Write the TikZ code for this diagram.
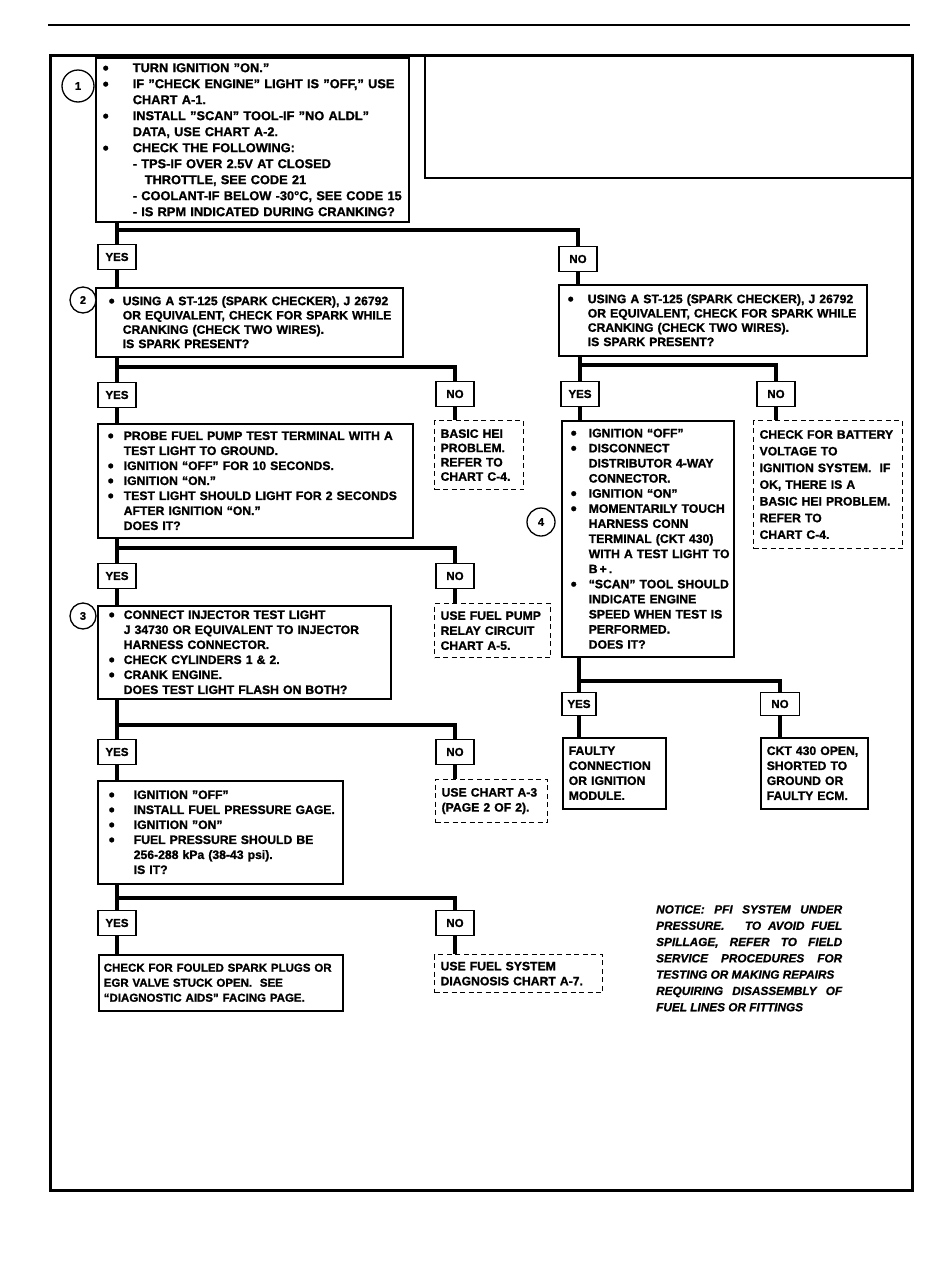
\documentclass[tikz,border=0pt]{standalone}
\usepackage{fontspec}
\setmainfont{Liberation Sans}[BoldFeatures={FakeBold=1.2}, BoldItalicFeatures={FakeBold=1}]
\usetikzlibrary{positioning}
\setlength\parindent{0pt}
\newlength\bulx
\newlength\bulw
\newcommand\bset[2]{\setlength\bulx{#1}\setlength\bulw{#2}}
\newcommand\bl{\hspace*{\bulx}\makebox[\bulw][l]{\raisebox{-1.6pt}{\fontsize{17}{0}\selectfont\textbullet}}}
\newcommand\ct{\hspace*{\bulx}\hspace*{\bulw}}

\begin{document}
\begin{tikzpicture}[x=1pt, y=-1pt,
    font=\bfseries\fontsize{12.2}{15}\selectfont,
    qbox/.style={draw=black, line width=1.5pt, fill=white, anchor=north west,
                 align=left, inner xsep=3pt, inner ysep=2pt},
    endbox/.style={qbox, inner xsep=6pt},
    dbox/.style={endbox, line width=1.2pt, dash pattern=on 5pt off 3.5pt},
    ans/.style={draw=black, line width=1.5pt, fill=white, inner sep=0pt,
                minimum width=38pt, minimum height=25pt,
                font=\bfseries\fontsize{11.5}{13}\selectfont},
    num/.style={circle, draw=black, line width=1.3pt, fill=white, inner sep=0pt,
                minimum size=26pt, font=\bfseries\fontsize{11}{13}\selectfont},
    wire/.style={draw=black, line width=3.8pt}
]
\useasboundingbox (0,0) rectangle (950,1264);

% page rule and frame
\draw[line width=2.5pt] (48,25) -- (910,25);
\draw[line width=3pt] (50,55) rectangle (912,1190);
\draw[line width=1.5pt] (425,55) |- (912,178);

% step 1
\node[qbox, text width=307pt, minimum height=164pt,
      font=\bfseries\fontsize{12.8}{16}\selectfont] (q1) at (95,57) {\bset{4pt}{30pt}%
\bl TURN IGNITION ''ON.''\\
\bl IF ''CHECK ENGINE'' LIGHT IS ''OFF,'' USE\\
\ct CHART A-1.\\
\bl INSTALL ''SCAN'' TOOL-IF ''NO ALDL''\\
\ct DATA, USE CHART A-2.\\
\bl CHECK THE FOLLOWING:\\
\ct - TPS-IF OVER 2.5V AT CLOSED\\
\ct\hspace*{12pt}THROTTLE, SEE CODE 21\\
\ct - COOLANT-IF BELOW -30°C, SEE CODE 15\\
\ct - IS RPM INDICATED DURING CRANKING?};
\node[num, minimum size=32pt] (c1) at (78,86) {1};
\node[ans] (y1) at (117,257) {YES};
\node[ans] (n1) at (578,259) {NO};

% step 2
\node[qbox, text width=301pt, minimum height=69pt,
      font=\bfseries\fontsize{12.2}{14.3}\selectfont] (q2L) at (95,287) {\bset{10pt}{14pt}%
\bl USING A ST-125 (SPARK CHECKER), J 26792\\
\ct OR EQUIVALENT, CHECK FOR SPARK WHILE\\
\ct CRANKING (CHECK TWO WIRES).\\
\ct IS SPARK PRESENT?};
\node[num] (c2) at (83,300) {2};
\node[qbox, text width=302pt, minimum height=71pt,
      font=\bfseries\fontsize{12.2}{14.3}\selectfont] (q2R) at (558,284) {\bset{6pt}{20pt}%
\bl USING A ST-125 (SPARK CHECKER), J 26792\\
\ct OR EQUIVALENT, CHECK FOR SPARK WHILE\\
\ct CRANKING (CHECK TWO WIRES).\\
\ct IS SPARK PRESENT?};
\node[ans] (y2L) at (117,395) {YES};
\node[ans] (n2L) at (455,394) {NO};
\node[ans] (y2R) at (580,394) {YES};
\node[ans] (n2R) at (776,394) {NO};

% fuel pump / ignition module
\node[qbox, text width=309pt, minimum height=114pt] (qP) at (97,423) {\bset{7pt}{16pt}%
\bl PROBE FUEL PUMP TEST TERMINAL WITH A\\
\ct TEST LIGHT TO GROUND.\\
\bl IGNITION ``OFF'' FOR 10 SECONDS.\\
\bl IGNITION ``ON.''\\
\bl TEST LIGHT SHOULD LIGHT FOR 2 SECONDS\\
\ct AFTER IGNITION ``ON.''\\
\ct DOES IT?};
\node[dbox, text width=77pt, minimum height=69pt,
      font=\bfseries\fontsize{12.2}{14.3}\selectfont] (hei) at (434,420)
  {BASIC HEI\\ PROBLEM.\\ REFER TO\\ CHART C-4.};
\node[qbox, text width=166pt, minimum height=236pt,
      font=\bfseries\fontsize{12.2}{15.1}\selectfont] (q4) at (561,420) {\bset{6pt}{18pt}%
\bl IGNITION ``OFF''\\
\bl DISCONNECT\\
\ct DISTRIBUTOR 4-WAY\\
\ct CONNECTOR.\\
\bl IGNITION ``ON''\\
\bl MOMENTARILY TOUCH\\
\ct HARNESS CONN\\
\ct TERMINAL (CKT 430)\\
\ct WITH A TEST LIGHT TO\\
\ct B\,+\,.\\
\bl ``SCAN'' TOOL SHOULD\\
\ct INDICATE ENGINE\\
\ct SPEED WHEN TEST IS\\
\ct PERFORMED.\\
\ct DOES IT?};
\node[num, minimum size=28pt] (c4) at (541,522) {4};
\node[dbox, text width=137pt, minimum height=128pt,
      font=\bfseries\fontsize{12.2}{16.7}\selectfont] (batt) at (753,420)
  {CHECK FOR BATTERY\\ VOLTAGE TO\\ IGNITION SYSTEM.\ \ IF\\ OK, THERE IS A\\
   BASIC HEI PROBLEM.\\ REFER TO\\ CHART C-4.};
\node[ans] (yP) at (117,576) {YES};
\node[ans] (nP) at (455,576) {NO};
\node[ans, minimum width=34pt, minimum height=23pt] (y4) at (579,704) {YES};
\node[ans, minimum width=39pt, minimum height=23pt] (n4) at (780,704) {NO};

% step 3
\node[qbox, text width=287pt, minimum height=93pt] (q3) at (97,605) {\bset{8pt}{15pt}%
\bl CONNECT INJECTOR TEST LIGHT\\
\ct J 34730 OR EQUIVALENT TO INJECTOR\\
\ct HARNESS CONNECTOR.\\
\bl CHECK CYLINDERS 1 \& 2.\\
\bl CRANK ENGINE.\\
\ct DOES TEST LIGHT FLASH ON BOTH?};
\node[num] (c3) at (83,616) {3};
\node[dbox, text width=104pt, minimum height=54pt] (relay) at (434,603)
  {USE FUEL PUMP\\ RELAY CIRCUIT\\ CHART A-5.};
\node[endbox, text width=91pt, minimum height=71pt] (faulty) at (562,737)
  {FAULTY\\ CONNECTION\\ OR IGNITION\\ MODULE.};
\node[endbox, text width=95pt, minimum height=71pt] (ckt) at (760,737)
  {CKT 430 OPEN,\\ SHORTED TO\\ GROUND OR\\ FAULTY ECM.};
\node[ans] (y3) at (117,752) {YES};
\node[ans] (n3) at (455,752) {NO};

% fuel pressure
\node[qbox, text width=239pt, minimum height=103pt] (qF) at (97,780) {\bset{8pt}{25pt}%
\bl IGNITION ''OFF''\\
\bl INSTALL FUEL PRESSURE GAGE.\\
\bl IGNITION ''ON''\\
\bl FUEL PRESSURE SHOULD BE\\
\ct 256-288 kPa (38-43 psi).\\
\ct IS IT?};
\node[dbox, text width=100pt, minimum height=43pt] (a3) at (435,779)
  {USE CHART A-3\\ (PAGE 2 OF 2).};
\node[ans] (yF) at (117,923) {YES};
\node[ans] (nF) at (455,923) {NO};
\node[endbox, inner xsep=5pt, text width=234pt, minimum height=56pt,
      font=\bfseries\fontsize{11.5}{15}\selectfont] (plugs) at (98,954)
  {CHECK FOR FOULED SPARK PLUGS OR\\ EGR VALVE STUCK OPEN.\ \ SEE\\
   ``DIAGNOSTIC AIDS'' FACING PAGE.};
\node[dbox, text width=156pt, minimum height=38pt] (a7) at (434,954)
  {USE FUEL SYSTEM\\ DIAGNOSIS CHART A-7.};
\node[anchor=north west, inner sep=0pt, text width=186pt, align=justify,
      font=\bfseries\itshape\fontsize{11.8}{16.3}\selectfont] (note) at (656,905)
  {NOTICE: PFI SYSTEM UNDER\linebreak PRESSURE.\ \ \ TO AVOID FUEL\linebreak
   SPILLAGE, REFER TO FIELD\linebreak SERVICE PROCEDURES FOR\linebreak
   TESTING OR MAKING REPAIRS\newline REQUIRING DISASSEMBLY OF\linebreak
   FUEL LINES OR FITTINGS};

% branches: question, yes, no, bar height
\foreach \q/\y/\n/\b in {q1/y1/n1/230, q2L/y2L/n2L/367, q2R/y2R/n2R/365,
                         qP/yP/nP/548, q4/y4/n4/681, q3/y3/n3/725, qF/yF/nF/898}{
  \coordinate (bar) at (0,\b);
  \draw[wire] (\q.south -| \y) -- (\y.north);
  \draw[wire] (\y |- bar) -| (\n.north);
}
% drops into the next box
\foreach \a/\t in {y1/q2L, n1/q2R, y2L/qP, n2L/hei, y2R/q4, n2R/batt, yP/q3, nP/relay,
                   y4/faulty, n4/ckt, y3/qF, n3/a3, yF/plugs, nF/a7}{
  \draw[wire] (\a.south) -- (\a.south |- \t.north);
}
\end{tikzpicture}
\end{document}
